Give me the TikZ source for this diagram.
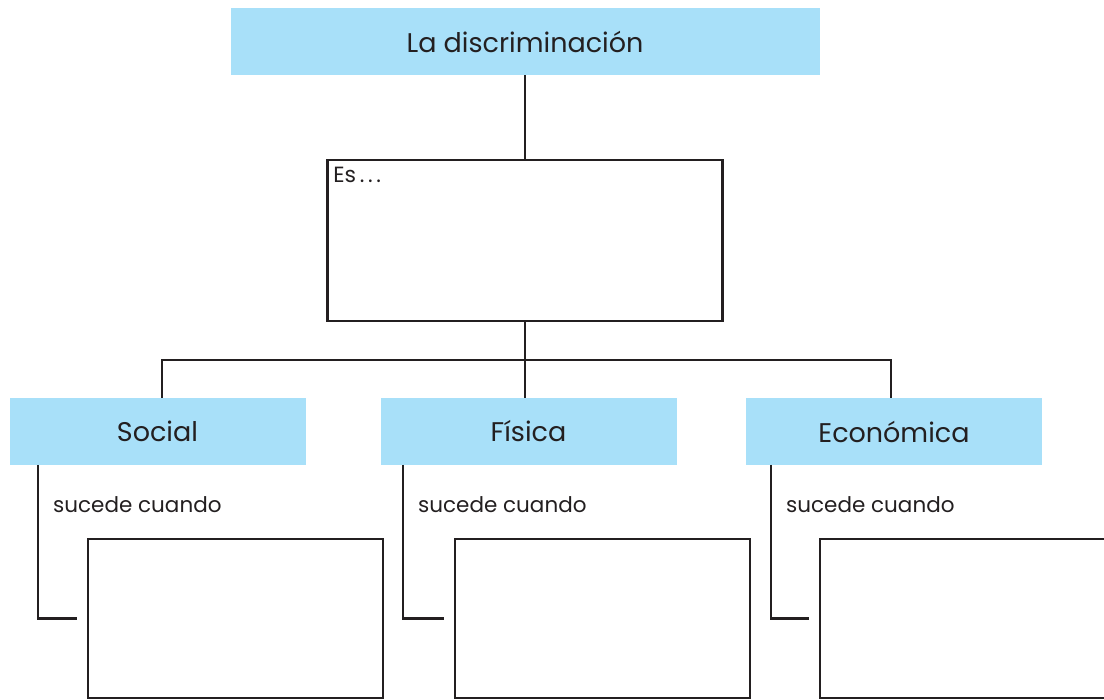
\documentclass[tikz,border=0pt]{standalone}
\usepackage{fontspec}
\setmainfont{Poppins}
\usepackage{tikz}
\definecolor{C}{RGB}{168,224,249}
\definecolor{K}{RGB}{35,31,32}
\newcommand{\fsize}[1]{\fontsize{#1}{#1}\selectfont}
\tikzset{
  celeste/.style={fill=C, inner sep=0pt, minimum height=67pt, text=K},
  hueco/.style={draw=K, line width=2.5pt, inner sep=0pt},
  trazo/.style={draw=K, line width=2.5pt}
}

\begin{document}
\begin{tikzpicture}[x=1pt,y=-1pt]
\useasboundingbox (0,0) rectangle (1104,700);
\node[celeste, minimum width=589pt, font=\fsize{27}] (disc) at (525,41.5) {La discriminación};
\node[hueco, minimum width=395pt, minimum height=161pt] (es) at (525,240.5) {};
\node[anchor=north west, inner sep=0pt, font=\fsize{22}, text=K] (esTxt) at ([xshift=7pt,yshift=-8pt]es.north west) {Es\,.\,.\,.};
\coordinate (bar) at (525,360);
\draw[trazo] (disc) -- (es);
\draw[trazo] (es) -- (bar);
\foreach \n/\t/\cx/\dx/\vx/\ax in {soc/Social/157.5/162/38/235.5, fis/Física/528.5/525/403/602.5, eco/Económica/894/891/771/967.5}{
  \node[celeste, minimum width=296pt, font=\fsize{27}] (\n) at (\cx,431.5) {\t};
  \node[hueco, minimum width=295pt, minimum height=159pt] (\n-res) at (\ax,618.5) {};
  \node[anchor=base west, inner sep=0pt, font=\fsize{21.5}, text=K] (\n-txt) at (\vx+15,513) {sucede cuando};
  \coordinate (\n-top) at (\dx,398);
  \coordinate (\n-pie) at (\vx,465);
  \draw[trazo] (bar) -| (\n-top);
  \draw[trazo] (\n-pie) |- ([xshift=-10pt]\n-res.west);
}
\end{tikzpicture}
\end{document}
